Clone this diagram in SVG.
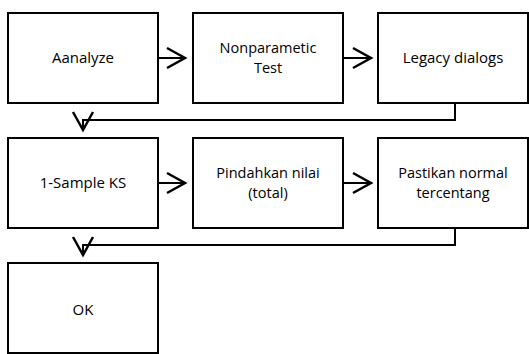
<svg xmlns="http://www.w3.org/2000/svg" width="529" height="354" viewBox="0 0 529 354">
<style>
.box{fill:#fff;stroke:#000;stroke-width:2}
.t{font-family:"Open Sans","Liberation Sans",Arial,sans-serif;font-size:15px;fill:#000;text-anchor:middle}
.t2{font-family:"Open Sans","Liberation Sans",Arial,sans-serif;font-size:14.5px;fill:#000;text-anchor:middle}
.c{fill:none;stroke:#000;stroke-width:2}
</style>
<defs>
<marker id="ah" markerUnits="userSpaceOnUse" markerWidth="24" markerHeight="24" viewBox="-20 -12 24 24" refX="0" refY="0" orient="auto">
<path d="M-18,-10 L0,0 L-18,10" fill="none" stroke="#000" stroke-width="2.5"/>
</marker>
</defs>
<rect width="529" height="354" fill="#fff"/>
<g id="connectors">
<path class="c" d="M158,58 H185" marker-end="url(#ah)"/>
<path class="c" d="M343,58 H371" marker-end="url(#ah)"/>
<path class="c" d="M455,103 V120 H83 V130" marker-end="url(#ah)"/>
<path class="c" d="M158,183 H185" marker-end="url(#ah)"/>
<path class="c" d="M343,183 H371" marker-end="url(#ah)"/>
<path class="c" d="M455,228 V245 H83 V255" marker-end="url(#ah)"/>
</g>
<g id="n1"><rect class="box" x="8" y="13" width="150" height="90"/><text class="t" x="83" y="63">Aanalyze</text></g>
<g id="n2"><rect class="box" x="193" y="13" width="150" height="90"/><text class="t2" x="268" y="53">Nonparametic</text><text class="t2" x="268" y="73">Test</text></g>
<g id="n3"><rect class="box" x="378" y="13" width="150" height="90"/><text class="t" x="453" y="63">Legacy dialogs</text></g>
<g id="n4"><rect class="box" x="8" y="138" width="150" height="90"/><text class="t" x="83" y="188">1-Sample KS</text></g>
<g id="n5"><rect class="box" x="193" y="138" width="150" height="90"/><text class="t2" x="268" y="178">Pindahkan nilai</text><text class="t2" x="268" y="198">(total)</text></g>
<g id="n6"><rect class="box" x="378" y="138" width="150" height="90"/><text class="t2" x="453" y="178">Pastikan normal</text><text class="t2" x="453" y="198">tercentang</text></g>
<g id="n7"><rect class="box" x="8" y="263" width="150" height="90"/><text class="t" x="83" y="315">OK</text></g>
</svg>
